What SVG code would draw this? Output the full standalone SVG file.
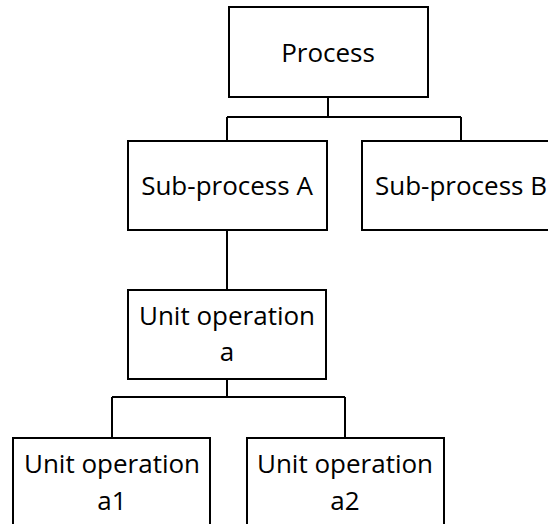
<svg xmlns="http://www.w3.org/2000/svg" width="548" height="524" viewBox="0 0 548 524">
  <style>
    .box { fill: #ffffff; stroke: #000000; stroke-width: 2; }
    .link { fill: none; stroke: #000000; stroke-width: 2; }
    .label { font-family: "Open Sans", "Noto Sans", sans-serif; font-size: 26px; fill: #000000; text-anchor: middle; }
  </style>
  <rect width="548" height="524" fill="#ffffff"/>
  <g id="connectors">
    <path class="link" d="M328 97 V117 M227 117 H461 M227 117 V141 M461 117 V141"/>
    <path class="link" d="M227 230 V290"/>
    <path class="link" d="M227 379 V397 M112 397 H345 M112 397 V438 M345 397 V438"/>
  </g>
  <g id="process">
    <rect class="box" x="229" y="7" width="199" height="90"/>
    <text class="label" x="328" y="62">Process</text>
  </g>
  <g id="sub-process-a">
    <rect class="box" x="128" y="141" width="199" height="89"/>
    <text class="label" x="227" y="195">Sub-process A</text>
  </g>
  <g id="sub-process-b">
    <rect class="box" x="362" y="141" width="199" height="89"/>
    <text class="label" x="461" y="195">Sub-process B</text>
  </g>
  <g id="unit-operation-a">
    <rect class="box" x="128" y="290" width="198" height="89"/>
    <text class="label" x="227" y="325">Unit operation</text>
    <text class="label" x="227" y="361">a</text>
  </g>
  <g id="unit-operation-a1">
    <rect class="box" x="13" y="438" width="197" height="100"/>
    <text class="label" x="112" y="473">Unit operation</text>
    <text class="label" x="112" y="510">a1</text>
  </g>
  <g id="unit-operation-a2">
    <rect class="box" x="247" y="438" width="197" height="100"/>
    <text class="label" x="345" y="473">Unit operation</text>
    <text class="label" x="345" y="510">a2</text>
  </g>
</svg>
